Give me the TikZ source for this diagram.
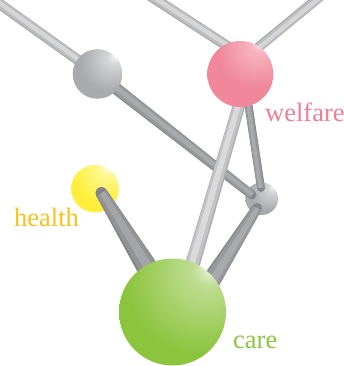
\documentclass[tikz,border=0pt]{standalone}
\usepackage{fontspec}
\setmainfont{Liberation Serif}
\usetikzlibrary{calc}
% ball colours
\definecolor{pinkbase}{HTML}{F0879A}
\definecolor{pinkmid}{HTML}{F7B4C0}
\definecolor{pinkhi}{HTML}{FDEBEE}
\definecolor{pinkdark}{HTML}{EB8094}
\definecolor{graybase}{HTML}{A9AAAE}
\definecolor{graymid}{HTML}{D4D5D7}
\definecolor{grayhi}{HTML}{F7F7F8}
\definecolor{graydark}{HTML}{96979B}
\definecolor{yelbase}{HTML}{FFEF3C}
\definecolor{yelmid}{HTML}{FFF791}
\definecolor{yelhi}{HTML}{FFFFF4}
\definecolor{yeldark}{HTML}{FCE62A}
\definecolor{grnbase}{HTML}{8CC43E}
\definecolor{grnmid}{HTML}{BEDD92}
\definecolor{grnhi}{HTML}{F4F9EC}
\definecolor{grndark}{HTML}{86BE3A}
% label colours
\definecolor{welfarecol}{HTML}{F27E96}
\definecolor{healthcol}{HTML}{F9C21A}
\definecolor{carecol}{HTML}{8DC63F}
% rod colours
\definecolor{rodA}{HTML}{A3A4A7}
\definecolor{rodAl}{HTML}{D6D6D8}
\definecolor{rodB}{HTML}{87888B}
\definecolor{rodBl}{HTML}{A9AAAC}
\definecolor{rodC}{HTML}{838487}
\definecolor{rodCl}{HTML}{A4A5A8}
\definecolor{rodD}{HTML}{ABACAF}
\definecolor{rodDl}{HTML}{DADADC}
\pgfdeclareradialshading{pinkball}{\pgfpoint{15bp}{24bp}}{color(0bp)=(pinkhi); color(6bp)=(pinkmid); color(28bp)=(pinkbase); color(62bp)=(pinkbase); color(80bp)=(pinkdark); color(100bp)=(pinkdark)}
\pgfdeclareradialshading{grayball}{\pgfpoint{18bp}{18bp}}{color(0bp)=(grayhi); color(7bp)=(graymid); color(30bp)=(graybase); color(60bp)=(graybase); color(78bp)=(graydark); color(100bp)=(graydark)}
\pgfdeclareradialshading{yelball}{\pgfpoint{14bp}{24bp}}{color(0bp)=(yelhi); color(8bp)=(yelmid); color(32bp)=(yelbase); color(62bp)=(yelbase); color(80bp)=(yeldark); color(100bp)=(yeldark)}
\pgfdeclareradialshading{grnball}{\pgfpoint{19bp}{22bp}}{color(0bp)=(grnhi); color(8bp)=(grnmid); color(34bp)=(grnbase); color(62bp)=(grnbase); color(80bp)=(grndark); color(100bp)=(grndark)}
% one band of a rod: a, b, lo/hi offsets at a, lo/hi offsets at b, colour
\newcommand\rodband[7]{%
  \fill[#7] ($(#1)!#3pt!90:(#2)$) -- ($(#1)!#4pt!90:(#2)$) -- ($(#2)!#6pt!-90:(#1)$) -- ($(#2)!#5pt!-90:(#1)$) -- cycle;}
% rod: a, b, half width at a, half width at b, base colour, light colour
\newcommand\rod[6]{%
  \pgfmathsetmacro\rAa{-1*#3}\pgfmathsetmacro\rAb{#3}%
  \pgfmathsetmacro\rBa{-1*#4}\pgfmathsetmacro\rBb{#4}%
  \rodband{#1}{#2}{\rAa}{\rAb}{\rBa}{\rBb}{#5}%
  \pgfmathsetmacro\rAa{-0.8*#3}\pgfmathsetmacro\rAb{0.9*#3}%
  \pgfmathsetmacro\rBa{-0.8*#4}\pgfmathsetmacro\rBb{0.9*#4}%
  \rodband{#1}{#2}{\rAa}{\rAb}{\rBa}{\rBb}{#5!50!#6}%
  \pgfmathsetmacro\rAa{-0.3*#3}\pgfmathsetmacro\rAb{0.55*#3}%
  \pgfmathsetmacro\rBa{-0.3*#4}\pgfmathsetmacro\rBb{0.55*#4}%
  \rodband{#1}{#2}{\rAa}{\rAb}{\rBa}{\rBb}{#6}}
\tikzset{
  ball/.style={circle, inner sep=0pt, outer sep=0pt, shade, draw=none},
  lbl/.style={anchor=base west, inner sep=0pt, font=\fontsize{26.5}{30}\selectfont}
}
\begin{document}
\begin{tikzpicture}[x=1pt,y=-1pt]
\useasboundingbox (0,0) rectangle (344,366);
\clip (0,0) rectangle (344,366);
% end points of the rods
\coordinate (tl) at (-10,-3);
\coordinate (g1c) at (97.5,74);
\coordinate (tm) at (149,-5);
\coordinate (pl) at (244,57);
\coordinate (tr) at (322,-5);
\coordinate (pr) at (243,60);
\coordinate (sg) at (252,195);
\coordinate (pcA) at (245,85);
\coordinate (pcB) at (185,290);
\coordinate (psA) at (245.5,85);
\coordinate (psB) at (261,188);
\coordinate (scA) at (257,208);
\coordinate (scB) at (199,300);
\coordinate (ycA) at (101.5,193);
\coordinate (ycB) at (167,300);
% balls that lie behind the rods
\node[ball, shading=grayball, minimum size=32.6pt] (S) at (261.7,198.7) {};
\node[ball, shading=yelball, minimum size=47.6pt] (Y) at (95,188.7) {};
% rods
\rod{tl}{g1c}{5.2}{5.2}{rodA}{rodAl}
\rod{tm}{pl}{5.2}{5.2}{rodA}{rodAl}
\rod{tr}{pr}{4.9}{4.9}{rodA}{rodAl}
\fill[rodB] (sg) circle[radius=4.5pt];
\rod{g1c}{sg}{6.2}{4.5}{rodB}{rodBl}
\fill[rodB] (psB) circle[radius=4pt];
\rod{psB}{psA}{4}{4}{rodB}{rodBl}
\fill[rodB] (scA) circle[radius=5pt];
\rod{scA}{scB}{5}{10.5}{rodB}{rodBl}
\fill[rodC] (ycA) circle[radius=6pt];
\rod{ycA}{ycB}{6}{12.5}{rodC}{rodCl}
\rod{pcB}{pcA}{7.5}{6}{rodD}{rodDl}
% balls in front
\node[ball, shading=grayball, minimum size=49.6pt] (G) at (g1c) {};
\node[ball, shading=pinkball, minimum size=66pt] (P) at (240.3,74) {};
\node[ball, shading=grnball, minimum size=107pt] (C) at (172.5,312) {};
% labels
\node[lbl, text=welfarecol] (wl) at (265,121.5) {welfare};
\node[lbl, text=healthcol] (hl) at (14,226) {health};
\node[lbl, text=carecol] (cl) at (233,348.5) {care};
\end{tikzpicture}
\end{document}
